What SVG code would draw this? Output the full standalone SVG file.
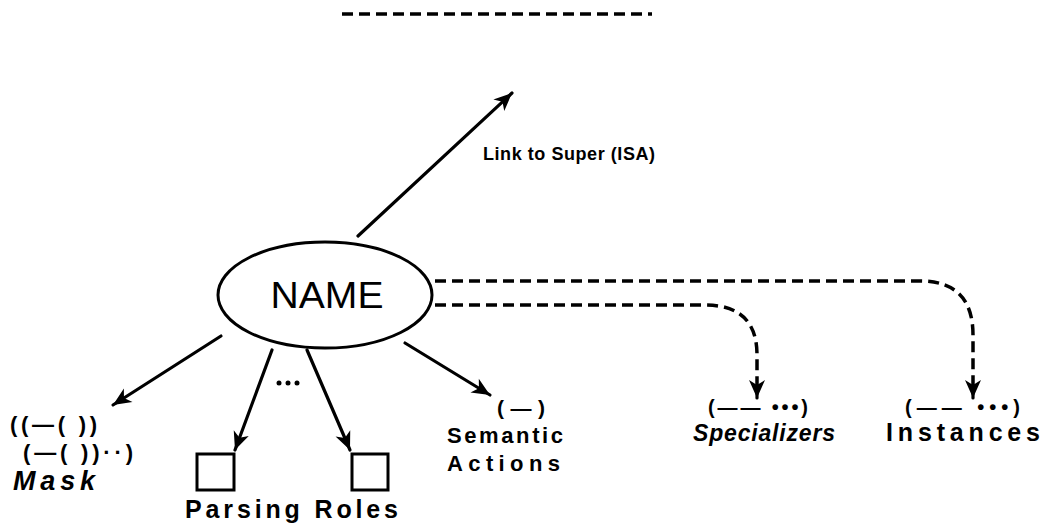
<svg xmlns="http://www.w3.org/2000/svg" width="1047" height="532" viewBox="0 0 1047 532">
<style>
  .ln{fill:none;stroke:#000;stroke-width:3.2;stroke-linecap:round}
  .ds{fill:none;stroke:#000;stroke-width:3.5;stroke-dasharray:11 6}
  .t{font-family:"Liberation Sans",Arial,sans-serif;fill:#000;font-weight:bold}
  .n{font-weight:normal}
  .i{font-style:italic}
  .box{fill:none;stroke:#000;stroke-width:3}
</style>
<defs>
  <marker id="ah" markerUnits="userSpaceOnUse" markerWidth="24" markerHeight="20" refX="20" refY="10" orient="auto">
    <path d="M2,2 L20,10 L2,18 L7,10 Z" fill="#000"/>
  </marker>
</defs>
<rect width="1047" height="532" fill="#fff"/>
<line x1="342" y1="14" x2="652" y2="14" class="ds" stroke-width="4" stroke-dasharray="11 4"/>

<g id="connectors">
  <line class="ln" x1="358" y1="236" x2="512" y2="93" marker-end="url(#ah)"/>
  <line class="ln" x1="221" y1="336" x2="113" y2="405" marker-end="url(#ah)"/>
  <line class="ln" x1="272" y1="350" x2="235" y2="450" marker-end="url(#ah)"/>
  <line class="ln" x1="307" y1="350" x2="350" y2="450" marker-end="url(#ah)"/>
  <line class="ln" x1="405" y1="343" x2="490" y2="395" marker-end="url(#ah)"/>
  <path class="ds" d="M435,281 H920 Q973,281 973,335 V392"/>
  <line class="ln" x1="973" y1="390" x2="973" y2="398" marker-end="url(#ah)"/>
  <path class="ds" d="M435,305 H705 Q757,305 757,355 V392"/>
  <line class="ln" x1="757" y1="390" x2="757" y2="398" marker-end="url(#ah)"/>
  <g fill="#000"><circle cx="279" cy="383" r="2.5"/><circle cx="288" cy="383" r="2.5"/><circle cx="297" cy="383" r="2.5"/></g>
</g>

<g id="name">
  <ellipse cx="325" cy="295" rx="107" ry="53" class="box"/>
  <text class="t n" x="327" y="308" font-size="37" text-anchor="middle" textLength="113" lengthAdjust="spacingAndGlyphs">NAME</text>
</g>

<g id="super">
  <text class="t" x="483" y="160" font-size="18" textLength="172" lengthAdjust="spacing">Link to Super (ISA)</text>
</g>

<g id="mask">
  <text class="t" x="10" y="432" font-size="22" textLength="87" lengthAdjust="spacing">((—( ))</text>
  <text class="t" x="23" y="460" font-size="22" textLength="110" lengthAdjust="spacing">(—( ))··)</text>
  <text class="t i" x="13" y="490" font-size="27" textLength="82" lengthAdjust="spacing">Mask</text>
</g>

<g id="parsing-roles">
  <rect class="box" x="197" y="454" width="37" height="36"/>
  <rect class="box" x="352" y="454" width="36" height="36"/>
  <text class="t" x="185" y="518" font-size="25" textLength="213" lengthAdjust="spacing">Parsing Roles</text>
</g>

<g id="semantic-actions">
  <text class="t" x="497" y="415" font-size="21" textLength="48" lengthAdjust="spacing">(—)</text>
  <text class="t" x="447" y="443" font-size="22" textLength="116" lengthAdjust="spacing">Semantic</text>
  <text class="t" x="447" y="471" font-size="22" textLength="113" lengthAdjust="spacing">Actions</text>
</g>

<g id="specializers">
  <text class="t" x="708" y="414" font-size="20" textLength="100" lengthAdjust="spacing">(—— •••)</text>
  <text class="t i" x="693" y="441" font-size="23" textLength="142" lengthAdjust="spacing">Specializers</text>
</g>

<g id="instances">
  <text class="t" x="905" y="414" font-size="20" textLength="115" lengthAdjust="spacing">(—— •••)</text>
  <text class="t" x="886" y="441" font-size="25" textLength="154" lengthAdjust="spacing">Instances</text>
</g>
</svg>
